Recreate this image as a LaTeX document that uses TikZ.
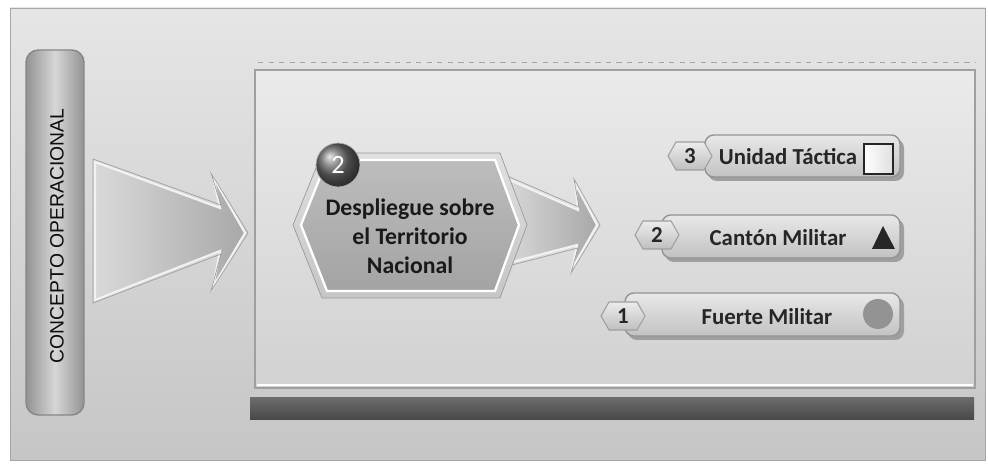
\documentclass[tikz,border=0pt]{standalone}
\usepackage{fontspec}
\setmainfont{Carlito}
\newfontfamily\arialfont{Liberation Sans}
\usepackage{tikz}
\usetikzlibrary{positioning, calc}

\tikzset{
    framebox/.style={draw=gray!70, top color=gray!20, bottom color=gray!45},
    barbox/.style={draw=gray!85, line width=0.8pt, rounded corners=5pt, top color=gray!18, bottom color=gray!48},
    tagbox/.style={draw=gray!75, line width=0.6pt, top color=gray!15, bottom color=gray!50},
    bigarrow/.style={draw=white!90!gray, line width=1.2pt, left color=gray!30, right color=gray!68},
    bartext/.style={font=\bfseries\fontsize{13}{14}\selectfont, text=black!85},
}

\begin{document}
\begin{tikzpicture}[x=0.02cm, y=-0.02cm, >=latex]
    \useasboundingbox (0,0) rectangle (988,465);
    \fill[white] (0,0) rectangle (988,465);
    % outer frame
    \draw[framebox] (10,8) rectangle (985,460);
    % left pill
    \draw[draw=gray!95, line width=0.8pt, rounded corners=7pt, left color=gray!85, right color=gray!85, middle color=gray!32] (26,50) rectangle (84,415);
    \node[rotate=90, font=\arialfont\fontsize{11}{13}\selectfont, text=black!95] (concepto) at (57,236) {CONCEPTO OPERACIONAL};
    % first arrow
    \draw[bigarrow] (95,162) -- (220,208) -- (213,177) -- (245,233) -- (213,287) -- (220,251) -- (95,300) -- cycle;
    \draw[gray!75, line width=0.4pt] (93,159) -- (221,205) -- (211,173) -- (248,233) -- (211,291) -- (221,254) -- (93,303) -- cycle;
    % inner panel
    \draw[gray!70, dashed] (258,62) -- (975,62);
    \draw[draw=gray!75, line width=0.8pt, top color=gray!16, bottom color=gray!36] (255,70) rectangle (975,388);
    \draw[white, line width=1.5pt] (257,385) -- (973,385);
    \fill[top color=black!58, bottom color=black!72] (250,398) rectangle (974,420);
    % second arrow
    \draw[bigarrow] (505,178) -- (578,210) -- (575,183) -- (597,225) -- (572,269) -- (577,245) -- (512,262) -- cycle;
    \draw[gray!75, line width=0.4pt] (505,175) -- (579,207) -- (574,179) -- (600,225) -- (571,273) -- (578,248) -- (512,265);
    % hexagon
    \draw[draw=gray!80, top color=gray!25, bottom color=gray!45] (293,225) -- (322,153) -- (500,153) -- (527,225) -- (500,298) -- (322,298) -- cycle;
    \draw[draw=white, line width=1.3pt, top color=gray!52, bottom color=gray!72] (301,225) -- (327,160) -- (495,160) -- (519,225) -- (495,291) -- (327,291) -- cycle;
    \node[font=\bfseries\fontsize{13.5}{16.5}\selectfont, align=center, text=black!90] (despliegue) at (410,236) {Despliegue sobre\\el Territorio\\Nacional};
    \node[circle, minimum size=25pt, inner sep=0pt, draw=gray!60, ball color=black!58, text=white, font=\fontsize{15}{16}\selectfont] (num) at (338,165) {2};
    % bars
    \foreach \n/\lx/\ty/\by in {3/705/135/177, 2/662/215/258, 1/625/293/336} {
        \fill[gray!75, rounded corners=5pt] (\lx+3,\ty+4) rectangle (904,\by+4);
        \draw[barbox] (\lx,\ty) rectangle (900,\by);
    }
    \foreach \n/\cx/\cy in {3/690/156, 2/657/235, 1/623/316} {
        \draw[tagbox] (\cx-22,\cy) -- (\cx-14,\cy-14) -- (\cx+14,\cy-14) -- (\cx+22,\cy) -- (\cx+14,\cy+14) -- (\cx-14,\cy+14) -- cycle;
        \node[bartext] (t\n) at (\cx,\cy) {\n};
    }
    \node[bartext] (unidad) at (788,157) {Unidad Táctica};
    \node[bartext] (canton) at (778,238) {Cantón Militar};
    \node[bartext] (fuerte) at (767,317) {Fuerte Militar};
    % icons
    \draw[black!85, line width=1.2pt, left color=white, right color=gray!25] (864,144) rectangle (893,174);
    \fill[black!85] (872,249) -- (895,249) -- (883,226) -- cycle;
    \fill[gray!85] (878,314) circle (15);
\end{tikzpicture}
\end{document}
